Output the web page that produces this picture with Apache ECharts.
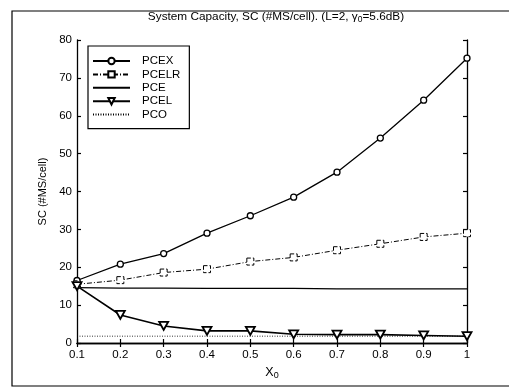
<!DOCTYPE html>
<html><head><meta charset="utf-8">
<script src="https://cdn.jsdelivr.net/npm/echarts@6/dist/echarts.min.js"></script>
<style>html,body{margin:0;padding:0;background:#fff}#c{width:509px;height:390px}</style>
</head><body><div id="c"></div>
<script>
const xVals = [0.1,0.2,0.3,0.4,0.5,0.6,0.7,0.8,0.9,1.0];
const pcex  = [16.5,20.8,23.6,29.0,33.6,38.5,45.1,54.1,64.1,75.2];
const pcelr = [15.5,16.6,18.6,19.5,21.5,22.6,24.5,26.2,28.0,29.0];
const pce   = [14.6,14.5,14.5,14.4,14.4,14.4,14.3,14.3,14.3,14.3];
const pcel  = [15.0,7.4,4.5,3.2,3.2,2.3,2.2,2.2,2.0,1.8];
const pco   = [1.8,1.8,1.8,1.8,1.8,1.8,1.8,1.8,1.8,1.8];
const yTicks = [0,10,20,30,40,50,60,70,80];

const FONT = 'Liberation Sans, Arial, sans-serif';
const pair = a => xVals.map((x,i)=>[x,a[i]]);
const tri = 'path://M0,0 L10,0 L5,9 Z';

const chart = echarts.init(document.getElementById('c'));
const axisCommon = {
  axisLine:{show:true,lineStyle:{color:'#000',width:1.3}},
  axisTick:{show:true,inside:true,length:4,lineStyle:{color:'#000',width:1.2}},
  splitLine:{show:false}
};
chart.setOption({
  animation:false,
  backgroundColor:'#fff',
  title:{
    text:'System Capacity, SC (#MS/cell). (L=2, γ{sub|0}=5.6dB)',
    left:271, textAlign:'center', top:5,
    textStyle:{fontFamily:FONT,fontSize:11.8,fontWeight:'normal',color:'#000',
      rich:{sub:{fontFamily:FONT,fontSize:8.5,color:'#000',padding:[5,0,0,0]}}}
  },
  graphic:[
    {type:'polyline',shape:{points:[[520,11],[12,11],[12,386],[520,386]]},style:{fill:'none',stroke:'#000',lineWidth:1.2},silent:true}
  ],
  legend:{
    orient:'vertical', left:88, top:46,
    backgroundColor:'#fff', borderColor:'#000', borderWidth:1.2,
    padding:[9,9,8,4], itemGap:1.4, itemWidth:37, itemHeight:8,
    textStyle:{fontFamily:FONT,fontSize:11.5,color:'#000',padding:[0,0,0,7]},
    data:['PCEX','PCELR',{name:'PCE',itemStyle:{opacity:0}},'PCEL',{name:'PCO',itemStyle:{opacity:0}}]
  },
  grid:{left:77,right:42,top:40,bottom:47},
  xAxis:[
    Object.assign({type:'value',min:0.1,max:1,interval:0.1,position:'bottom',
      name:'X{sub|0}',nameLocation:'middle',nameGap:19,
      nameTextStyle:{fontFamily:FONT,fontSize:12.5,color:'#000',rich:{sub:{fontFamily:FONT,fontSize:9,color:'#000',padding:[7,0,0,0]}}},
      axisLabel:{fontFamily:FONT,fontSize:11.5,color:'#000',margin:6,formatter:v=>String(+(+v).toFixed(1))}},axisCommon),
    Object.assign({type:'value',min:0.1,max:1,interval:0.1,position:'top',axisLabel:{show:false}},axisCommon)
  ],
  yAxis:[
    Object.assign({type:'value',min:yTicks[0],max:yTicks[yTicks.length-1],interval:10,position:'left',
      name:'SC (#MS/cell)',nameLocation:'middle',nameGap:25,
      nameTextStyle:{fontFamily:FONT,fontSize:11,color:'#000'},
      axisLabel:{fontFamily:FONT,fontSize:11.5,color:'#000',margin:5}},axisCommon),
    Object.assign({type:'value',min:0,max:80,interval:10,position:'right',axisLabel:{show:false}},axisCommon)
  ],
  series:[
    {name:'PCEX',type:'line',data:pair(pcex),symbol:'circle',symbolSize:6,
      lineStyle:{color:'#000',width:1.3},itemStyle:{color:'#fff',borderColor:'#000',borderWidth:1.3}},
    {name:'PCELR',type:'line',data:pair(pcelr),symbol:'rect',symbolSize:7,
      lineStyle:{color:'#000',width:1,type:[5,2,1,2]},itemStyle:{color:'#fff',borderColor:'#000',borderWidth:1,borderType:'dashed'}},
    {name:'PCE',type:'line',data:pair(pce),symbol:'none',showSymbol:false,
      lineStyle:{color:'#000',width:1.2},itemStyle:{color:'#000'}},
    {name:'PCEL',type:'line',data:pair(pcel),symbol:tri,symbolSize:[9,8],
      lineStyle:{color:'#000',width:1.6},itemStyle:{color:'#fff',borderColor:'#000',borderWidth:1.8}},
    {name:'PCO',type:'line',data:pair(pco),symbol:'none',showSymbol:false,
      lineStyle:{color:'#000',width:0.8,type:[1,1.5]},itemStyle:{color:'#000'}}
  ]
});
</script></body></html>
